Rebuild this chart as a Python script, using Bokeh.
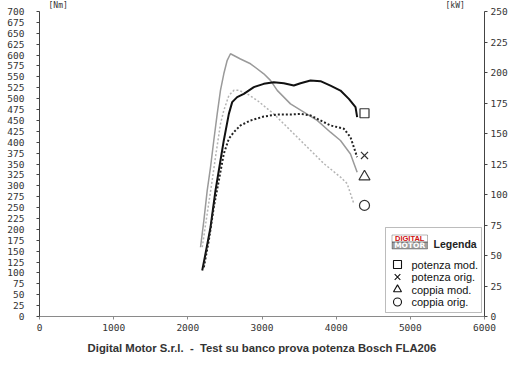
from bokeh.plotting import figure
from bokeh.models import Range1d, LinearAxis, FixedTicker, Label, BoxAnnotation
from bokeh.embed import file_html
from bokeh.resources import INLINE

# ---- data ----
pm_rpm = [2194, 2238, 2306, 2373, 2440, 2485, 2553, 2598, 2665, 2755, 2890, 3024, 3159, 3294, 3429, 3519, 3654, 3789, 3923, 4058, 4171, 4261, 4283]
pm_kw = [37.7, 51.4, 73.2, 103.3, 127.9, 144.3, 166.1, 175.7, 179.8, 182.5, 188, 190.7, 192, 191.2, 189.3, 191.2, 193.4, 192.9, 189.3, 185.2, 178.4, 171.6, 163.4]

po_rpm = [2216, 2283, 2350, 2418, 2485, 2553, 2620, 2710, 2845, 3024, 3205, 3384, 3519, 3654, 3789, 3923, 4103, 4193, 4238, 4283]
po_kw = [40.4, 62.3, 89.6, 111.5, 133.4, 145.7, 151.1, 156.6, 160.7, 163.9, 165.6, 165.6, 166.1, 164.8, 160.7, 156.6, 153.9, 147, 138.8, 130.6]

cm_rpm = [2171, 2216, 2261, 2306, 2350, 2396, 2440, 2485, 2531, 2575, 2620, 2710, 2845, 3024, 3114, 3205, 3384, 3564, 3744, 3923, 4058, 4193, 4283]
cm_nm = [159, 220, 289, 343, 404, 465, 519, 557, 588, 603, 599, 591, 580, 557, 542, 519, 488, 469, 450, 423, 404, 373, 331]

co_rpm = [2194, 2261, 2328, 2373, 2440, 2485, 2553, 2620, 2687, 2800, 2935, 3159, 3384, 3609, 3834, 4058, 4148, 4193, 4238]
co_nm = [159, 236, 312, 366, 442, 473, 507, 519, 519, 511, 496, 465, 427, 389, 351, 320, 305, 282, 259]

marker_rpm = 4382
marker_pm_kw = 166.6
marker_po_kw = 132
marker_cm_nm = 321
marker_co_nm = 255

x_ticks = [0, 1000, 2000, 3000, 4000, 5000, 6000]
nm_ticks = list(range(0, 701, 25))
kw_ticks = list(range(0, 251, 25))
NM_MAX, KW_MAX, RPM_MAX = 700, 250, 6000

legend_labels = ["potenza mod.", "potenza orig.", "coppia mod.", "coppia orig."]
legend_markers = ["square", "x", "triangle", "circle"]
title_text = "Digital Motor S.r.l.\u00a0\u00a0-\u00a0\u00a0Test su banco prova potenza Bosch FLA206"

TICK_FONT = "DejaVu Sans Mono"
AX_COL = "#333333"

# frame geometry: axis part is 445 x 305 px, with 11 px of head room inside the frame
FW, AXH, HEAD, LEFT = 445, 305, 11, 39
FH = AXH + HEAD
NM_TOP = NM_MAX * FH / AXH
KW_TOP = KW_MAX * FH / AXH

def px2x(px):
    return (px - LEFT) * RPM_MAX / FW

def py2y(py):
    return (FH - py) * NM_MAX / AXH

p = figure(frame_width=FW, frame_height=FH, output_backend="svg", toolbar_location=None,
           x_range=Range1d(0, RPM_MAX), y_range=Range1d(0, NM_TOP),
           min_border_left=LEFT, min_border_right=20, min_border_top=0, min_border_bottom=5)
p.extra_y_ranges = {"kw": Range1d(0, KW_TOP)}
p.outline_line_color = None
p.xgrid.visible = False
p.ygrid.visible = False

def style_axis(ax, ticks, line_col):
    ax.ticker = FixedTicker(ticks=ticks)
    ax.axis_line_color = line_col
    ax.major_tick_line_color = line_col
    ax.major_tick_out = 3
    ax.major_tick_in = 0
    ax.minor_tick_line_color = None
    ax.major_label_text_font = TICK_FONT
    ax.major_label_text_font_size = "9.5px"
    ax.major_label_text_color = AX_COL
    ax.major_label_standoff = 4

style_axis(p.xaxis[0], x_ticks, "#8a8a8a")
style_axis(p.yaxis[0], nm_ticks, "#444444")
p.yaxis[0].major_label_standoff = 12
p.yaxis[0].bounds = (0, NM_MAX)
right = LinearAxis(y_range_name="kw", bounds=(0, KW_MAX))
style_axis(right, kw_ticks, "#444444")
right.major_label_standoff = 3
p.add_layout(right, "right")

# ---- curves ----
p.line(cm_rpm, cm_nm, line_color="#9a9a9a", line_width=1.5)
p.line(co_rpm, co_nm, line_color="#b4b4b4", line_width=1.5, line_dash="2 2")
p.line(pm_rpm, pm_kw, line_color="#111111", line_width=2, y_range_name="kw")
p.line(po_rpm, po_kw, line_color="#222222", line_width=2, line_dash="2 2", y_range_name="kw")

mk = dict(fill_color=None, line_color="#333333", line_width=1.2)
p.scatter([marker_rpm], [marker_pm_kw], marker="square", size=9, y_range_name="kw", **mk)
p.scatter([marker_rpm], [marker_po_kw], marker="x", size=10, y_range_name="kw", **mk)
p.scatter([marker_rpm], [marker_cm_nm], marker="triangle", size=11, **mk)
p.scatter([marker_rpm], [marker_co_nm], marker="circle", size=10, **mk)

# ---- legend box (drawn by hand) ----
p.add_layout(BoxAnnotation(left=px2x(385), right=px2x(481), top=py2y(227), bottom=py2y(312),
                           fill_color="white", fill_alpha=1, line_color="#222222", line_width=1,
                           level="underlay"))
row_py = [264, 276.5, 289, 301.5]
p.scatter([px2x(397)] * 4, [py2y(v) for v in row_py], marker=legend_markers, size=8,
          fill_color=None, line_color="#111111", line_width=1.1)
for lab, py in zip(legend_labels, row_py):
    p.add_layout(Label(x=px2x(411), y=py2y(py), text=lab, text_font="Liberation Sans",
                       text_font_size="11px", text_color="#111111", text_baseline="middle"))

# logo + heading
p.add_layout(BoxAnnotation(left=px2x(391.5), right=px2x(427), top=py2y(234.5), bottom=py2y(241.5),
                           fill_color="white", line_color="#111111", line_width=1, level="underlay"))
p.add_layout(BoxAnnotation(left=px2x(391.5), right=px2x(427), top=py2y(241.5), bottom=py2y(248.5),
                           fill_color="#111111", line_color="#111111", level="underlay"))
p.add_layout(Label(x=px2x(409.2), y=py2y(238.2), text="DIGITAL", text_font="Liberation Sans",
                   text_font_style="bold", text_font_size="7.5px", text_color="#d01010",
                   text_baseline="middle", text_align="center"))
p.add_layout(Label(x=px2x(409.2), y=py2y(245.2), text="MOTOR", text_font="DejaVu Sans",
                   text_font_style="bold", text_font_size="7.5px", text_color="white",
                   text_baseline="middle", text_align="center"))
p.add_layout(Label(x=px2x(433), y=py2y(243), text="Legenda",
                   text_font="Liberation Sans",
                   text_font_style="bold", text_font_size="10.5px", text_color="#222222",
                   text_baseline="middle"))

# unit labels (in the head room above the axes)
p.add_layout(Label(x=px2x(48), y=py2y(5), text="[Nm]", text_font=TICK_FONT, text_font_size="8px",
                   text_color=AX_COL, text_baseline="middle"))
p.add_layout(Label(x=px2x(445), y=py2y(5), text="[kW]", text_font=TICK_FONT, text_font_size="8px",
                   text_color=AX_COL, text_baseline="middle"))

p.title_location = "below"
p.title.text = title_text
p.title.align = "center"
p.title.text_font = "Liberation Sans"
p.title.text_font_style = "bold"
p.title.text_font_size = "11.3px"
p.title.text_color = "#333333"
p.title.standoff = 13

open("out.html", "w").write(file_html(p, INLINE))
